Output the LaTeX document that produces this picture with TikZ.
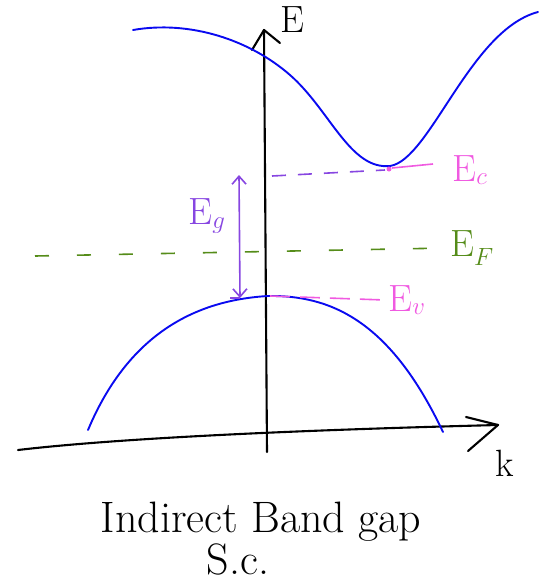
\documentclass[tikz,border=0pt]{standalone}
\usepackage{fontspec}
\usetikzlibrary{arrows.meta}
\definecolor{bandblue}{RGB}{10,10,240}
\definecolor{gappurple}{RGB}{135,70,225}
\definecolor{levelpink}{RGB}{240,90,225}
\definecolor{fermigreen}{RGB}{85,140,25}
\begin{document}
\begin{tikzpicture}[x=1pt, y=-1pt,
  axisline/.style={line width=2.1pt, line cap=round, line join=round},
  bandline/.style={bandblue, line width=1.9pt, line cap=round},
  tag/.style={font=\fontsize{38}{44}\selectfont},
  title/.style={font=\fontsize{44}{52}\selectfont, anchor=base, inner sep=0pt}]
  \useasboundingbox (0,0) rectangle (545,587);
  % axes
  \coordinate (kstart) at (18,450);
  \coordinate (kend) at (498,425);
  \coordinate (Ebottom) at (267,452);
  \coordinate (Etop) at (264,30);
  \draw[axisline] (kstart) .. controls (120,438) and (300,430) .. (kend);
  \draw[axisline] (466,417) -- (kend) -- (468,451);
  \draw[axisline] (Ebottom) -- (Etop);
  \draw[axisline] (252,50) -- (Etop) -- (280,43);
  \node[tag] (Elab) at (292,20) {E};
  \node[tag] (klab) at (505,463) {k};
  % bands
  \draw[bandline] (133,30) .. controls (190,20) and (250,40) .. (290,75)
    .. controls (330,110) and (350,170) .. (390,166)
    .. controls (430,160) and (470,30) .. (538,12);
  \draw[bandline] (88,430) .. controls (130,330) and (200,300) .. (268,296)
    .. controls (330,295) and (390,320) .. (443,432);
  % levels
  \node[tag, levelpink] (Ec) at (470,170) {E$_c$};
  \node[tag, fermigreen] (EF) at (472,248) {E$_F$};
  \node[tag, levelpink] (Ev) at (407,300) {E$_v$};
  \node[tag, gappurple] (Eg) at (207,216) {E$_g$};
  \draw[gappurple, line width=1.6pt, dash pattern=on 14pt off 12pt] (272,176) -- (385,170);
  \fill[levelpink] (389,169) circle (2.5);
  \draw[levelpink, line width=1.6pt] (392,168) -- (433,164);
  \draw[fermigreen, line width=1.6pt, dash pattern=on 14pt off 28pt] (35,256) -- (EF.west);
  \draw[levelpink, line width=1.6pt, dash pattern=on 20pt off 10pt] (270,296) -- (Ev.west);
  \coordinate (gaptop) at (239,175);
  \coordinate (gapbot) at (240,298);
  \draw[gappurple, line width=1.6pt, <->, >={Straight Barb[length=8pt, width=14pt]}] (gaptop) -- (gapbot);
  \draw[gappurple, line width=1.6pt] (230,298) -- (gapbot);
  % caption
  \node[title] (cap1) at (261,532) {Indirect Band gap};
  \node[title] (cap2) at (238,574) {S.c.};
\end{tikzpicture}
\end{document}
